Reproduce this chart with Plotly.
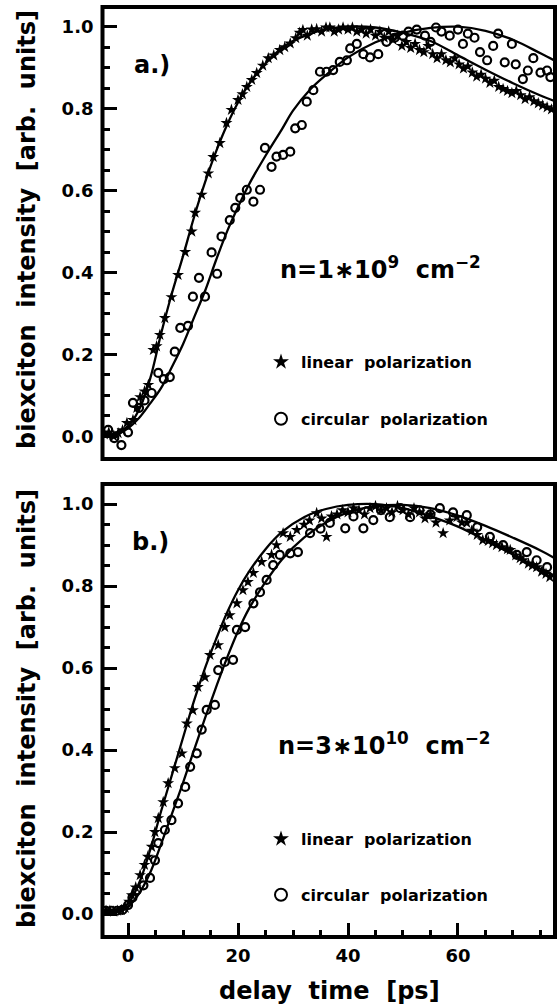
import plotly.graph_objects as go

W, H = 557, 1007

a_lin_t = [-4.3, -3.5, -2.6, -1.8, -1.0, -0.2, 0.9, 1.6, 2.2, 3.0, 3.7, 4.6, 5.2, 5.8, 6.7, 7.9, 9.1,
           10.4, 11.6, 12.2, 13.4, 14.6, 15.5, 16.7, 17.9, 18.8, 20.0, 20.8, 21.6, 22.5, 23.4, 24.5,
           25.5, 26.5, 27.6, 28.5, 29.5, 30.5, 31.2, 31.8, 32.6, 33.4, 34.3, 35.2, 36.0, 36.7, 37.5,
           38.3, 39.1, 40.0, 40.8, 41.6, 42.5, 43.3, 44.1, 45.0, 45.8, 46.6, 47.4, 48.2, 49.0, 49.8,
           50.6, 51.4, 52.2, 53.0, 53.8, 54.6, 55.4, 56.2, 57.0, 57.8, 58.6, 59.4, 60.2, 61.0, 61.8,
           62.6, 63.4, 64.2, 65.0, 65.8, 66.6, 67.4, 68.2, 69.0, 69.8, 70.6, 71.4, 72.2, 73.0, 73.8,
           74.6, 75.4, 76.2, 77.0]
a_lin_v = [0.005, 0.01, 0.0, 0.008, 0.015, 0.033, 0.04, 0.07, 0.096, 0.11, 0.126, 0.211, 0.22, 0.248,
           0.289, 0.34, 0.394, 0.45, 0.50, 0.546, 0.59, 0.642, 0.682, 0.716, 0.765, 0.797, 0.821, 0.835,
           0.853, 0.87, 0.887, 0.905, 0.923, 0.93, 0.943, 0.95, 0.959, 0.972, 0.985, 0.992, 0.978, 0.993,
           0.994, 0.988, 0.998, 0.998, 0.988, 0.993, 0.998, 0.993, 0.998, 0.988, 0.993, 0.983, 0.993,
           0.978, 0.988, 0.973, 0.988, 0.968, 0.978, 0.953, 0.963, 0.948, 0.958, 0.943, 0.938, 0.953,
           0.933, 0.923, 0.933, 0.918, 0.913, 0.923, 0.908, 0.898, 0.903, 0.888, 0.878, 0.883, 0.873,
           0.863, 0.868, 0.853, 0.848, 0.843, 0.838, 0.843, 0.833, 0.823, 0.828, 0.818, 0.813, 0.808,
           0.803, 0.798]

a_cir_t = [-3.6, -2.5, -1.2, 0.0, 0.9, 2.0, 3.0, 4.3, 5.5, 6.5, 7.6, 8.5, 9.5, 10.9, 11.8, 12.9, 14.0,
           15.2, 16.2, 17.0, 18.5, 19.5, 20.4, 21.6, 22.8, 24.0, 24.9, 26.1, 27.0, 28.2, 29.5, 30.4,
           31.6, 32.5, 33.7, 34.9, 36.1, 37.3, 38.5, 39.8, 40.4, 41.6, 42.8, 44.0, 45.5, 47.0, 48.5,
           50.0, 51.0, 52.5, 54.0, 55.0, 56.0, 57.0, 58.5, 60.0, 60.9, 61.8, 63.0, 64.0, 65.3, 66.4,
           67.3, 68.5, 69.8, 70.5, 71.8, 72.7, 73.7, 75.0, 76.2, 76.8]
a_cir_v = [0.016, -0.004, -0.021, 0.01, 0.082, 0.07, 0.088, 0.106, 0.155, 0.14, 0.145, 0.207, 0.265,
           0.27, 0.341, 0.387, 0.341, 0.449, 0.397, 0.488, 0.528, 0.558, 0.582, 0.602, 0.573, 0.602,
           0.704, 0.658, 0.683, 0.687, 0.695, 0.752, 0.76, 0.817, 0.845, 0.89, 0.89, 0.894, 0.914,
           0.918, 0.947, 0.958, 0.933, 0.925, 0.933, 0.963, 0.973, 0.978, 0.988, 0.993, 0.978, 0.963,
           0.998, 0.988, 0.978, 0.993, 0.958, 0.983, 0.973, 0.938, 0.918, 0.953, 0.983, 0.913, 0.958,
           0.908, 0.872, 0.893, 0.923, 0.888, 0.893, 0.877]

a_fit_t = [-4.6, -2, 0, 2, 4, 6, 8, 10, 12, 14, 16, 18, 20, 22, 25, 28, 30, 33, 36, 40, 45, 50, 55,
           60, 65, 70, 75, 77.6]
a_fit_lin = [0.0, 0.01, 0.025, 0.065, 0.14, 0.25, 0.35, 0.44, 0.535, 0.62, 0.695, 0.76, 0.815, 0.86,
             0.91, 0.948, 0.965, 0.982, 0.994, 1.0, 0.998, 0.985, 0.965, 0.93, 0.895, 0.862, 0.832, 0.818]
a_fit_cir = [0.0, 0.005, 0.02, 0.045, 0.08, 0.118, 0.17, 0.225, 0.29, 0.355, 0.43, 0.50, 0.56, 0.615,
             0.685, 0.75, 0.795, 0.845, 0.882, 0.925, 0.962, 0.985, 0.997, 1.0, 0.99, 0.968, 0.935, 0.917]

b_lin_t = [-4.0, -3.3, -2.6, -1.9, -1.2, -0.5, 0.2, 0.7, 1.4, 2.2, 3.0, 3.6, 4.3, 4.9, 5.5, 6.4, 7.3,
           8.5, 9.8, 10.7, 11.8, 12.7, 14.0, 14.9, 16.4, 17.6, 18.5, 19.8, 20.9, 21.8, 22.8, 24.3,
           26.1, 27.0, 28.2, 29.5, 30.7, 32.0, 33.0, 34.3, 35.2, 36.1, 37.0, 38.0, 39.0, 40.0, 41.0,
           42.0, 43.0, 44.0, 45.0, 46.0, 47.0, 48.0, 49.0, 50.0, 51.0, 52.0, 53.0, 54.0, 55.0, 56.0,
           57.3, 58.5, 59.8, 60.7, 61.6, 62.5, 63.5, 64.5, 65.5, 66.3, 67.0, 68.0, 69.0, 69.5, 70.5,
           71.3, 71.8, 72.8, 73.5, 74.3, 75.2, 76.0, 76.7]
b_lin_v = [0.008, 0.008, 0.006, 0.008, 0.01, 0.015, 0.03, 0.046, 0.065, 0.095, 0.12, 0.14, 0.164, 0.20,
           0.234, 0.273, 0.319, 0.356, 0.392, 0.465, 0.497, 0.554, 0.578, 0.632, 0.656, 0.70, 0.729,
           0.758, 0.79, 0.81, 0.832, 0.859, 0.876, 0.90, 0.929, 0.92, 0.937, 0.95, 0.96, 0.978, 0.965,
           0.92, 0.97, 0.975, 0.985, 0.98, 0.99, 0.985, 0.975, 0.99, 0.995, 0.985, 0.99, 0.98, 0.995,
           0.985, 0.975, 0.99, 0.98, 0.965, 0.975, 0.955, 0.929, 0.96, 0.968, 0.955, 0.954, 0.935,
           0.925, 0.912, 0.91, 0.905, 0.90, 0.895, 0.89, 0.888, 0.875, 0.868, 0.863, 0.855, 0.85,
           0.846, 0.835, 0.83, 0.822]

b_cir_t = [-4.0, -3.0, -2.0, -1.0, 0.0, 0.8, 1.6, 2.8, 4.0, 4.9, 5.5, 6.7, 7.9, 9.1, 10.4, 11.3, 12.5,
           13.4, 14.3, 15.8, 16.4, 17.6, 19.1, 19.8, 21.3, 22.8, 24.0, 25.2, 26.4, 27.6, 29.5, 30.9,
           33.1, 35.0, 36.7, 39.5, 41.0, 42.8, 44.6, 46.0, 47.6, 49.5, 51.3, 53.0, 55.0, 56.7, 59.1,
           61.6, 63.5, 65.8, 68.2, 70.7, 72.5, 74.3, 76.2]
b_cir_v = [0.008, 0.008, 0.008, 0.01, 0.022, 0.04, 0.058, 0.07, 0.088, 0.131, 0.173, 0.205, 0.229,
           0.27, 0.31, 0.359, 0.392, 0.45, 0.498, 0.51, 0.595, 0.615, 0.62, 0.693, 0.70, 0.758, 0.785,
           0.815, 0.851, 0.876, 0.88, 0.883, 0.929, 0.94, 0.954, 0.941, 0.97, 0.941, 0.961, 0.985,
           0.968, 0.99, 0.968, 0.985, 0.975, 0.99, 0.98, 0.973, 0.944, 0.92, 0.90, 0.876, 0.883,
           0.863, 0.846]

b_fit_t = [-4.6, -2, 0, 2, 4, 6, 8, 10, 12, 14, 16, 18, 20, 22, 25, 28, 32, 36, 40, 45, 50, 55, 60,
           65, 70, 75, 77.6]
b_fit_lin = [0.005, 0.007, 0.025, 0.075, 0.155, 0.25, 0.34, 0.43, 0.52, 0.60, 0.67, 0.735, 0.79,
             0.835, 0.89, 0.932, 0.968, 0.988, 0.998, 1.0, 0.99, 0.97, 0.945, 0.912, 0.877, 0.842, 0.825]
b_fit_cir = [0.005, 0.007, 0.018, 0.05, 0.10, 0.17, 0.245, 0.32, 0.40, 0.478, 0.553, 0.625, 0.69,
             0.745, 0.81, 0.865, 0.918, 0.955, 0.98, 0.995, 0.998, 0.99, 0.972, 0.947, 0.918, 0.887, 0.868]

y_major = [0.0, 0.2, 0.4, 0.6, 0.8, 1.0]
y_minor = [0.05, 0.1, 0.15, 0.25, 0.3, 0.35, 0.45, 0.5, 0.55, 0.65, 0.7, 0.75, 0.85, 0.9, 0.95]
x_major = [0, 20, 40, 60]
x_minor = [5, 10, 15, 25, 30, 35, 45, 50, 55, 65, 70, 75]

FONT = "DejaVu Sans"
TICKCOL = "black"


def fx(p):
    return p / W


def fy(p):
    return 1 - p / H


fig = go.Figure()

panels = [
    ("x", "y", "legend", a_lin_t, a_lin_v, a_cir_t, a_cir_v, a_fit_t, a_fit_lin, a_fit_cir),
    ("x2", "y2", "legend2", b_lin_t, b_lin_v, b_cir_t, b_cir_v, b_fit_t, b_fit_lin, b_fit_cir),
]
for xa, ya, lg, lt, lv, ct, cv, ft, fl, fc in panels:
    for fv in (fl, fc):
        fig.add_trace(go.Scatter(x=ft, y=fv, mode="lines", line=dict(color="black", width=2.3, shape="spline"),
                                 xaxis=xa, yaxis=ya, showlegend=False, hoverinfo="skip"))
    fig.add_trace(go.Scatter(x=lt, y=lv, mode="markers", name="linear  polarization",
                             marker=dict(symbol="star", size=9, color="black", line=dict(width=0)),
                             xaxis=xa, yaxis=ya, legend=lg, legendgroup=lg + "lin"))
    fig.add_trace(go.Scatter(x=ct, y=cv, mode="markers", name="circular  polarization",
                             marker=dict(symbol="circle-open", size=8, color="black", line=dict(width=2.2)),
                             xaxis=xa, yaxis=ya, legend=lg, legendgroup=lg + "cir"))

X0, X1 = 102.5, 555
xdom = [fx(X0), fx(X1)]
xrange_ = [-4.64, 77.64]
tickfont = dict(family=FONT, size=18, color="black", weight="bold")


def yaxis_cfg(dom, rng, anchor):
    return dict(domain=dom, range=rng, anchor=anchor, showline=False,
                ticks="inside", ticklen=14, tickwidth=3, tickcolor=TICKCOL,
                tickmode="array", tickvals=y_major, ticktext=[f"{v:.1f}" for v in y_major],
                minor=dict(ticks="inside", ticklen=7, tickwidth=3, tickcolor=TICKCOL, tickvals=y_minor),
                showgrid=False, zeroline=False, tickfont=tickfont, ticklabelstandoff=8)


fig.update_layout(
    width=W, height=H, margin=dict(l=0, r=0, t=0, b=0),
    paper_bgcolor="white", plot_bgcolor="white",
    xaxis=dict(domain=xdom, range=xrange_, anchor="y", showline=False,
               ticks="", showticklabels=False, showgrid=False, zeroline=False),
    xaxis2=dict(domain=xdom, range=xrange_, anchor="y2", showline=False,
                ticks="inside", ticklen=14, tickwidth=3, tickcolor=TICKCOL,
                tickmode="array", tickvals=x_major,
                minor=dict(ticks="inside", ticklen=7, tickwidth=3, tickcolor=TICKCOL, tickvals=x_minor),
                showgrid=False, zeroline=False, tickfont=tickfont, ticklabelstandoff=6),
    yaxis=yaxis_cfg([fy(459), fy(7)], [-0.055, 1.048], "x"),
    yaxis2=yaxis_cfg([fy(937), fy(484)], [-0.056, 1.049], "x2"),
    legend=dict(x=fx(261), y=fy(345), xanchor="left", yanchor="top", bgcolor="rgba(0,0,0,0)",
                font=dict(family=FONT, size=16, color="black", weight="bold"),
                tracegroupgap=33, itemsizing="constant"),
    legend2=dict(x=fx(261), y=fy(822), xanchor="left", yanchor="top", bgcolor="rgba(0,0,0,0)",
                 font=dict(family=FONT, size=16, color="black", weight="bold"),
                 tracegroupgap=32, itemsizing="constant"),
    showlegend=True,
)

for xr, yr in (("x domain", "y domain"), ("x2 domain", "y2 domain")):
    fig.add_shape(type="rect", xref=xr, yref=yr, x0=0, x1=1, y0=0, y1=1,
                  line=dict(color="black", width=4), layer="above")

ann_font = dict(family=FONT, size=24, color="black", weight="bold")
annotations = [
    dict(text="a.)", x=fx(152), y=fy(65)),
    dict(text="b.)", x=fx(150), y=fy(542)),
    dict(text="n=1∗10<sup>9</sup>  cm<sup>−2</sup>", x=fx(380), y=fy(268)),
    dict(text="n=3∗10<sup>10</sup>  cm<sup>−2</sup>", x=fx(384), y=fy(744)),
    dict(text="biexciton  intensity  [arb.  units]", x=fx(27), y=fy(230), textangle=-90),
    dict(text="biexciton  intensity  [arb.  units]", x=fx(27), y=fy(709), textangle=-90),
    dict(text="delay  time  [ps]", x=fx(329), y=fy(991)),
]
for a in annotations:
    fig.add_annotation(xref="paper", yref="paper", showarrow=False, xanchor="center", yanchor="middle",
                       font=ann_font, **a)

fig.write_html("out.html")
